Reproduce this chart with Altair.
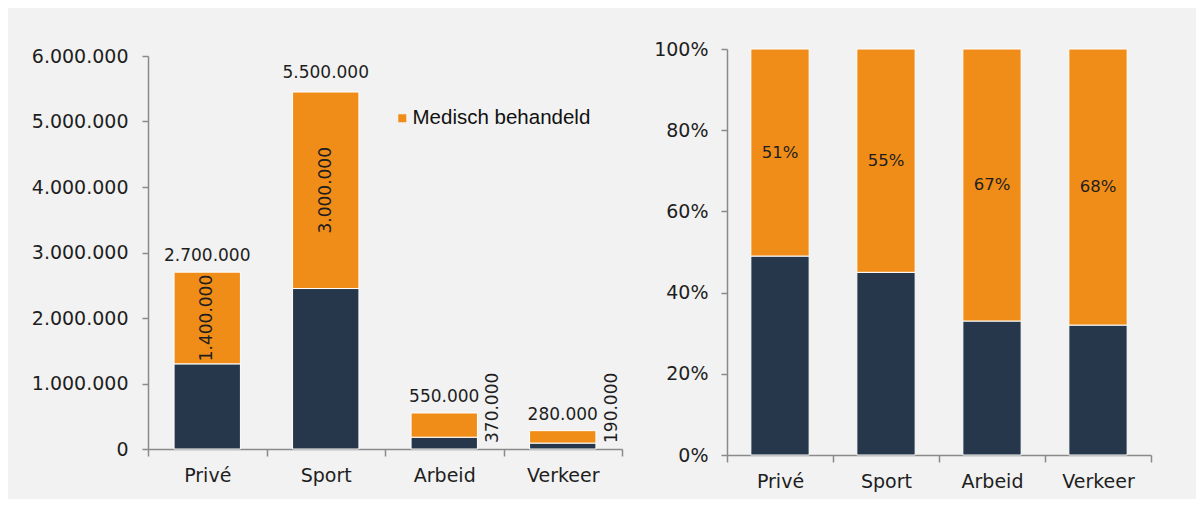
import altair as alt
import pandas as pd

# ---- data ----
cats = ["Privé", "Sport", "Arbeid", "Verkeer"]
niet_behandeld = [1300000, 2450000, 180000, 90000]
medisch_behandeld = [1400000, 3000000, 370000, 190000]
totaal = [2700000, 5500000, 550000, 280000]
pct_niet = [0.49, 0.45, 0.33, 0.32]
pct_med = [0.51, 0.55, 0.67, 0.68]

MED = "Medisch behandeld"
NIET = "Niet medisch behandeld"

DARK = "#26374B"
ORANGE = "#F08D18"
AX = "#8A8A8A"
TXT = "#1E1E1E"
BG = "#F2F2F2"
FONT = "DejaVu Sans"

df_long = pd.DataFrame({
    "cat": cats * 2,
    "serie": [NIET] * 4 + [MED] * 4,
    "waarde": niet_behandeld + medisch_behandeld,
    "pct": pct_niet + pct_med,
    "ord": [0] * 4 + [1] * 4,
})
df_wide = pd.DataFrame({
    "cat": cats,
    "niet": niet_behandeld,
    "med": medisch_behandeld,
    "totaal": totaal,
    "pct_niet": pct_niet,
    "pct_med": pct_med,
})

color_scale = alt.Scale(domain=[MED, NIET], range=[ORANGE, DARK])
dotfmt = "replace(format({}, ','), /,/g, '.')"


def x_enc(pad):
    return alt.X(
        "cat:N", sort=cats, title=None,
        scale=alt.Scale(paddingInner=0, paddingOuter=0),
        axis=alt.Axis(labelAngle=0, tickBand="extent", domainColor=AX, tickColor=AX,
                      domainWidth=1.5, tickWidth=1.5, tickSize=7,
                      labelPadding=pad, labelFontSize=19, labelColor=TXT,
                      labelFont=FONT, grid=False),
    )


# ---- left: absolute numbers ----
LEFT_H = 400
yL_scale = alt.Scale(domain=[0, 6000000], nice=False, range=[LEFT_H, 7])
yL = alt.Y(
    "waarde:Q", stack="zero", title=None, scale=yL_scale,
    axis=alt.Axis(values=[0, 1000000, 2000000, 3000000, 4000000, 5000000, 6000000],
                  labelExpr=dotfmt.format("datum.value"), grid=False,
                  domainColor=AX, tickColor=AX, domainWidth=1.5, tickWidth=1.5, tickSize=6,
                  labelPadding=14, labelFontSize=19, labelColor=TXT, labelFont=FONT),
)

bars_left = alt.Chart(df_long).mark_bar(
    width=alt.RelativeBandSize(0.56), stroke="white", strokeWidth=1
).encode(
    x=x_enc(10),
    y=yL,
    color=alt.Color("serie:N", scale=color_scale,
                    legend=alt.Legend(values=[MED], orient="none", legendX=244, legendY=59,
                                      title=None, symbolType="square", symbolSize=64,
                                      symbolStrokeWidth=0, labelFontSize=20.5,
                                      labelFont="Liberation Sans", labelColor="#111111",
                                      labelOffset=0, padding=0, labelLimit=0)),
    order=alt.Order("ord:Q"),
)

tot_text = alt.Chart(df_wide).transform_calculate(
    lbl=dotfmt.format("datum.totaal")
).mark_text(baseline="alphabetic", dy=-11, fontSize=17, font=FONT, color=TXT).encode(
    x=alt.X("cat:N", sort=cats),
    y=alt.Y("totaal:Q"),
    text="lbl:N",
)

in_text = alt.Chart(df_wide).transform_filter(
    "datum.med >= 1000000"
).transform_calculate(
    mid="datum.niet + datum.med / 2", lbl=dotfmt.format("datum.med")
).mark_text(angle=270, align="center", baseline="middle", fontSize=17, font=FONT, color=TXT).encode(
    x=alt.X("cat:N", sort=cats),
    y=alt.Y("mid:Q"),
    text="lbl:N",
)

out_text = alt.Chart(df_wide).transform_filter(
    "datum.med < 1000000"
).transform_calculate(
    base="0", lbl=dotfmt.format("datum.med")
).mark_text(angle=270, align="left", baseline="middle", dx=6, dy=49, fontSize=17, font=FONT, color=TXT).encode(
    x=alt.X("cat:N", sort=cats),
    y=alt.Y("base:Q"),
    text="lbl:N",
)

left = alt.layer(bars_left, tot_text, in_text, out_text).properties(width=474, height=LEFT_H)

# ---- right: shares ----
yR = alt.Y(
    "pct:Q", stack="zero", title=None,
    scale=alt.Scale(domain=[0, 1], nice=False),
    axis=alt.Axis(values=[0, 0.2, 0.4, 0.6, 0.8, 1.0], format=".0%", grid=False,
                  domainColor=AX, tickColor=AX, domainWidth=1.5, tickWidth=1.5, tickSize=6,
                  labelPadding=13, labelFontSize=19, labelColor=TXT, labelFont=FONT),
)

bars_right = alt.Chart(df_long).mark_bar(
    width=alt.RelativeBandSize(0.55), stroke="white", strokeWidth=1
).encode(
    x=x_enc(10),
    y=yR,
    color=alt.Color("serie:N", scale=color_scale, legend=None),
    order=alt.Order("ord:Q"),
)

pct_text = alt.Chart(df_wide).transform_calculate(
    mid="datum.pct_niet + datum.pct_med / 2"
).mark_text(baseline="middle", fontSize=16.5, font=FONT, color=TXT).encode(
    x=alt.X("cat:N", sort=cats),
    y=alt.Y("mid:Q"),
    text=alt.Text("pct_med:Q", format=".0%"),
)

right = alt.layer(bars_right, pct_text).properties(width=424, height=406)

chart = alt.hconcat(left, right, spacing=30).resolve_scale(color="independent").properties(
    padding={"left": 23, "top": 32, "right": 44, "bottom": 8},
    background=BG,
).configure_view(stroke=None)

chart.save("out.html", embed_options={"renderer": "svg", "actions": False})
